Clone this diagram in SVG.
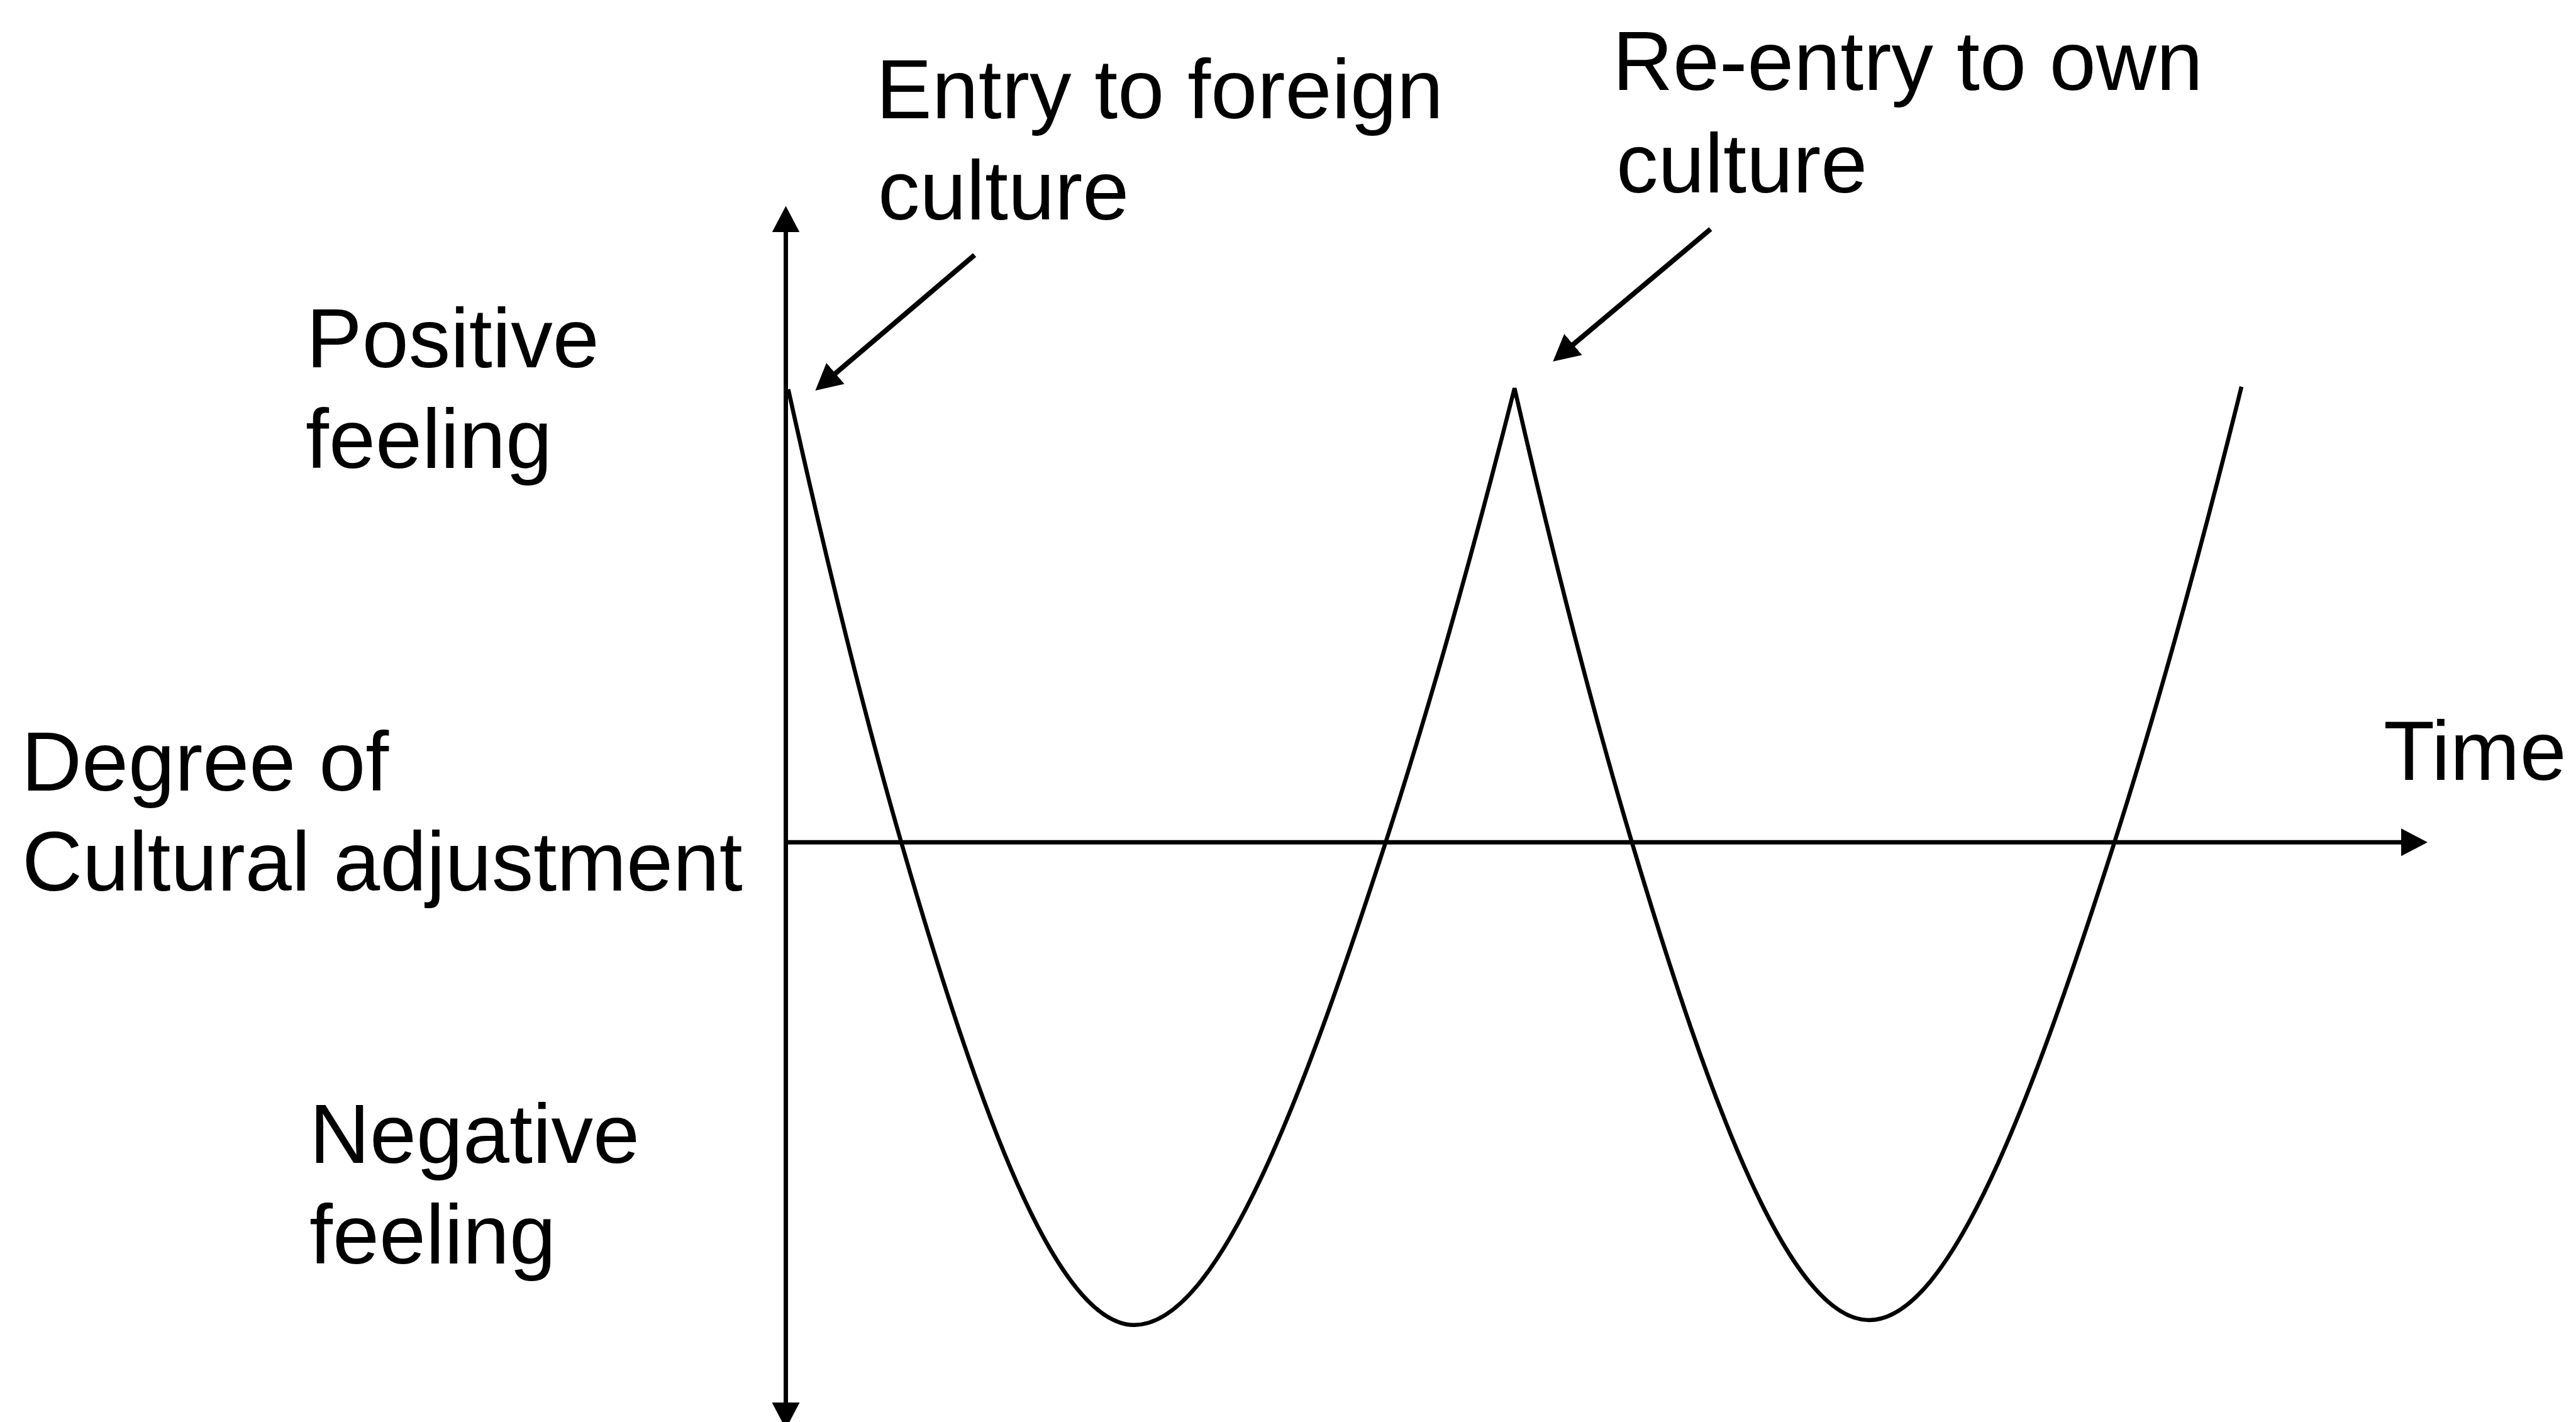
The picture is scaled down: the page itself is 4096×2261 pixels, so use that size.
<svg xmlns="http://www.w3.org/2000/svg" width="4096" height="2261" viewBox="0 0 4096 2261">
  <style>
    .lbl { font-family: "Liberation Sans", Arial, sans-serif; font-size: 133px; fill: #000; }
    .axis { stroke: #000; stroke-width: 7; fill: none; }
    .ann { stroke: #000; stroke-width: 8; fill: none; }
    .wave { stroke: #000; stroke-width: 6.5; fill: none; stroke-linejoin: miter; }
  </style>
  <defs>
    <marker id="ah" viewBox="0 0 42 44" refX="22" refY="22" markerWidth="42" markerHeight="44" markerUnits="userSpaceOnUse" orient="auto-start-reverse">
      <path d="M0,0 L42,22 L0,44 Z" fill="#000"/>
    </marker>
  </defs>
  <rect x="0" y="0" width="4096" height="2261" fill="#fff"/>

  <g id="connectors">
    <line id="y-axis" class="axis" x1="1249.5" y1="347.4" x2="1249.5" y2="2252" marker-start="url(#ah)" marker-end="url(#ah)"/>
    <line id="x-axis" class="axis" x1="1249.5" y1="1339.2" x2="3840" y2="1339.2" marker-end="url(#ah)"/>
    <line id="arrow-entry" class="ann" x1="1549.6" y1="405.5" x2="1311.6" y2="608.0" marker-end="url(#ah)"/>
    <line id="arrow-reentry" class="ann" x1="2719.9" y1="364.2" x2="2484.6" y2="561.9" marker-end="url(#ah)"/>
  </g>

  <g id="curve">
    <path class="wave" d="M1253.4,619 C1313.3,890.2 1373.1,1131.5 1433,1339.2 C1556.5,1767.6 1679.9,2106.7 1803.4,2106.7 C1936.7,2106.7 2070,1749.8 2203.3,1339.2 C2271.6,1128.8 2339.9,887.1 2408.2,617.3 C2470.4,889.1 2532.6,1130.8 2594.8,1339.2 C2720.5,1760.3 2846.3,2099 2972,2099 C3102,2099 3232.1,1744.9 3362.1,1339.2 C3429.4,1129.1 3496.8,885.6 3564.1,614.9"/>
  </g>

  <g id="label-entry">
    <text class="lbl" x="1393" y="187.5">Entry to foreign</text>
    <text class="lbl" x="1396" y="348.5">culture</text>
  </g>
  <g id="label-reentry">
    <text class="lbl" x="2564" y="142.5">Re-entry to own</text>
    <text class="lbl" x="2570" y="306">culture</text>
  </g>
  <g id="label-positive">
    <text class="lbl" x="487" y="583.5">Positive</text>
    <text class="lbl" x="486" y="744">feeling</text>
  </g>
  <g id="label-degree">
    <text class="lbl" x="34" y="1257">Degree of</text>
    <text class="lbl" x="35" y="1416">Cultural adjustment</text>
  </g>
  <g id="label-negative">
    <text class="lbl" x="492" y="1849">Negative</text>
    <text class="lbl" x="492" y="2009">feeling</text>
  </g>
  <g id="label-time">
    <text class="lbl" x="3790" y="1240">Time</text>
  </g>
</svg>
